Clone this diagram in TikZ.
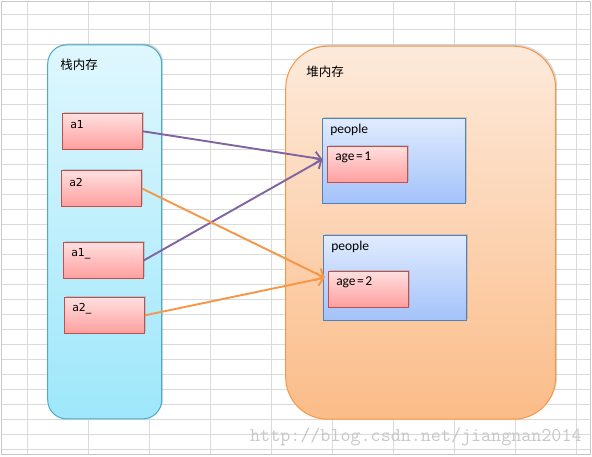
\documentclass[tikz,border=0pt]{standalone}
\usepackage{fontspec}
\setmainfont{Carlito}
\newfontfamily\cjk{Noto Sans CJK SC}
\newfontfamily\tah{DejaVu Sans}
\usetikzlibrary{arrows.meta,shadows}
\definecolor{Grid}{HTML}{DADADA}
\definecolor{Frame}{HTML}{C8C8C8}
\definecolor{StkTop}{HTML}{DFF7FE}
\definecolor{StkBot}{HTML}{9EE7FB}
\definecolor{StkEdge}{HTML}{4BACC6}
\definecolor{HpTop}{HTML}{FDEADB}
\definecolor{HpBot}{HTML}{FBBC88}
\definecolor{HpEdge}{HTML}{F79646}
\definecolor{VarTop}{HTML}{FFE0E0}
\definecolor{VarBot}{HTML}{FF9E9E}
\definecolor{VarEdge}{HTML}{C0504D}
\definecolor{ObjTop}{HTML}{E0EBFE}
\definecolor{ObjBot}{HTML}{A3C2FA}
\definecolor{ObjEdge}{HTML}{4F81BD}
\definecolor{Purp}{HTML}{8064A2}
\definecolor{Oran}{HTML}{F79646}
\definecolor{Mark}{HTML}{C8C8C8}

\begin{document}
\begin{tikzpicture}[x=1pt,y=-1pt,
  cell/.style={draw=Grid,line width=0.8},
  tag/.style={anchor=west,inner sep=0,xshift=8,yshift=-12},
  shade/.style={drop shadow={shadow xshift=1.5,shadow yshift=-1.5,opacity=0.3}},
  var/.style={draw=VarEdge,line width=0.9,top color=VarTop,bottom color=VarBot,
    minimum width=80,minimum height=36,inner sep=0,shade,
    label={[tag,font=\tah\fontsize{11}{12}\selectfont]north west:#1}},
  obj/.style={draw=ObjEdge,line width=0.9,top color=ObjTop,bottom color=ObjBot,
    minimum width=143,minimum height=85,inner sep=0,shade,
    label={[tag,font=\fontsize{13.5}{15}\selectfont]north west:#1}},
  fld/.style={draw=VarEdge,line width=0.9,top color=VarTop,bottom color=VarBot,
    minimum width=80,minimum height=36.5,inner sep=0,shade,
    label={[tag,font=\fontsize{13.5}{15}\selectfont]north west:#1}},
  ptr/.style={draw=#1,line width=1.9,-{Straight Barb[length=6.5,width=13]}}]
  \useasboundingbox (0,0) rectangle (592,456);
  \fill[white] (0,0) rectangle (592,456);
  % sheet grid
  \foreach \x in {27,88,...,576}
    \draw[cell] (\x,2) -- (\x,454);
  \foreach \k in {0,...,29}
    \draw[cell] (2,{14.8+15*\k}) -- (590,{14.8+15*\k});
  \draw[Frame,line width=1] (1.5,1.5) rectangle (590.5,454.5);

  % memory areas
  \node[draw=StkEdge,line width=1,top color=StkTop,bottom color=StkBot,
    rounded corners=19,minimum width=114,minimum height=374,inner sep=0,shade,
    label={[anchor=west,inner sep=0,xshift=13,yshift=-20,font=\cjk\fontsize{12.5}{14}\selectfont]north west:栈内存}]
    (stk) at (104.7,231.9) {};
  \node[draw=HpEdge,line width=1,top color=HpTop,bottom color=HpBot,
    rounded corners=42,minimum width=270,minimum height=373,inner sep=0,shade,
    label={[anchor=west,inner sep=0,xshift=21,yshift=-26,font=\cjk\fontsize{12.5}{14}\selectfont]north west:堆内存}]
    (hp) at (420.7,232.7) {};

  % references
  \node[var=a1] (a1) at (102.5,131.3) {};
  \node[var=a2] (a2) at (101.5,188.5) {};
  \node[var=a1\_] (a1c) at (103.5,260.3) {};
  \node[var=a2\_] (a2c) at (104.5,315.3) {};

  % objects
  \node[obj=people] (p1) at (394,160.8) {};
  \node[fld={age\hspace{1.5pt}=\hspace{1.5pt}1}] (age1) at (367.5,164.3) {};
  \node[obj=people] (p2) at (395,278) {};
  \node[fld={age\hspace{1.5pt}=\hspace{1.5pt}2}] (age2) at (368.5,289.3) {};

  \coordinate (t1) at ([xshift=-4.6,yshift=5]age1.west);
  \coordinate (t2) at ([xshift=-3.3,yshift=11.6]age2.west);
  \draw[ptr=Purp] (a1.east) -- (t1);
  \draw[ptr=Purp] (a1c.east) -- (t1);
  \draw[ptr=Oran] (a2.east) -- (t2);
  \draw[ptr=Oran] (a2c.east) -- (t2);

  \node[anchor=west,inner sep=0,text=Mark,font=\ttfamily\fontsize{19.5}{19.5}\selectfont]
    (wm) at (250,436.7) {http://blog.csdn.net/jiangnan2014};
\end{tikzpicture}
\end{document}
